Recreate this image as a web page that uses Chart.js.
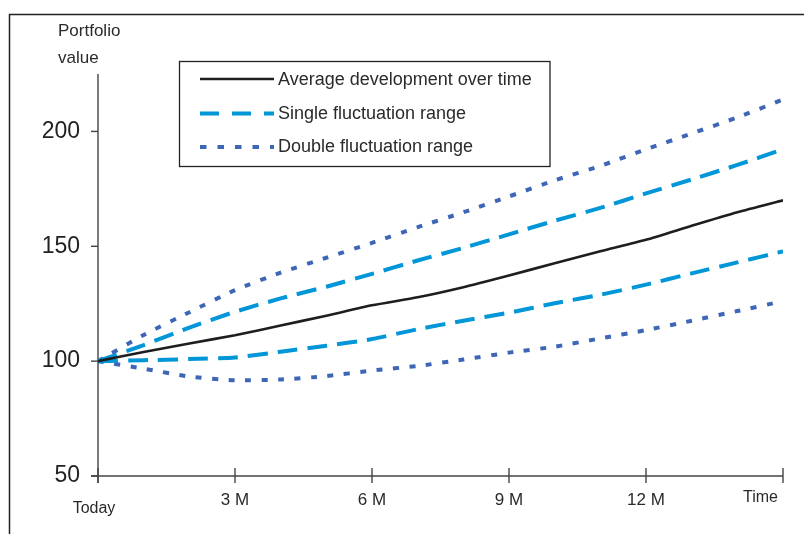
<!DOCTYPE html>
<html><head><meta charset="utf-8">
<script src="https://cdn.jsdelivr.net/npm/chart.js@4.4.1/dist/chart.umd.min.js"></script>
<style>html,body{margin:0;padding:0;background:#fff;}canvas{display:block;}</style>
</head><body>
<canvas id="c" width="804" height="534"></canvas>
<script>
// ---- data ----
const months = [0,1,2,3,4,5,6,7,8,9,10,11,12,13,14,15];
const average      = [100,104.0,107.7,111.3,115.5,119.8,124.3,127.8,132.2,137.3,142.6,147.8,152.8,158.9,164.8,170.0];
const upperSingle  = [100,107.0,114.6,121.5,127.3,132.4,138.0,143.8,149.3,155.2,161.1,166.7,173.0,179.1,185.4,192.2];
const lowerSingle  = [100,100.4,100.9,101.6,104.1,106.7,109.6,113.9,117.6,121.1,125.2,128.9,133.3,138.2,143.0,147.8];
const upperDouble  = [100,111.4,121.3,130.9,138.5,145.0,151.5,158.3,164.8,171.7,178.7,185.0,192.2,199.1,206.1,213.9];
const lowerDouble  = [100,96.7,93.3,91.7,92.0,93.5,95.9,97.9,100.7,103.7,106.3,109.9,113.5,117.6,121.8,126.1];
const xTickValues  = [0,3,6,9,12,15];
const xTickLabels  = ['Today','3 M','6 M','9 M','12 M','Time'];
const yTickValues  = [50,100,150,200];
const legendLabels = ['Average development over time','Single fluctuation range','Double fluctuation range'];
const yTitle       = ['Portfolio','value'];

const C_AVG = '#1e1e1e', C_SINGLE = '#0096d7', C_DOUBLE = '#3d66b6';
const FONT = '"Liberation Sans", Arial, sans-serif';
const TXT = '#2a2a2a';

const pts = arr => months.map((m,i)=>({x:m,y:arr[i]}));

const decor = {
  id:'decor',
  beforeDatasetsDraw(chart){
    const ctx=chart.ctx, xs=chart.scales.x, ys=chart.scales.y, a=chart.chartArea;
    const x0=xs.getPixelForValue(0), yb=ys.getPixelForValue(50), xe=xs.getPixelForValue(15);
    ctx.save();
    ctx.strokeStyle='#444'; ctx.lineWidth=1.4;
    const ln=(x1,y1,x2,y2)=>{ctx.beginPath();ctx.moveTo(x1,y1);ctx.lineTo(x2,y2);ctx.stroke();};
    ln(x0,a.top,x0,yb+7);
    ln(x0-7,yb,xe,yb);
    yTickValues.forEach(v=>{const y=ys.getPixelForValue(v); ln(x0-7,y,x0,y);});
    xTickValues.forEach(v=>{const x=xs.getPixelForValue(v); ln(x,yb-8,x,yb+7);});
    ctx.restore();
  },
  afterDraw(chart){
    const ctx=chart.ctx, xs=chart.scales.x, ys=chart.scales.y;
    const yb=ys.getPixelForValue(50);
    ctx.save();
    // frame
    ctx.strokeStyle='#222'; ctx.lineWidth=1.5;
    ctx.beginPath(); ctx.moveTo(804,14.5); ctx.lineTo(9.5,14.5); ctx.lineTo(9.5,534); ctx.stroke();
    // x labels
    ctx.fillStyle=TXT; ctx.textBaseline='alphabetic';
    xTickValues.forEach((v,i)=>{
      const x=xs.getPixelForValue(v);
      if(i===0){ctx.font='16px '+FONT; ctx.textAlign='center'; ctx.fillText(xTickLabels[i],x-4,yb+37);}
      else if(i===xTickValues.length-1){ctx.font='16px '+FONT; ctx.textAlign='right'; ctx.fillText(xTickLabels[i],x-5,yb+26);}
      else {ctx.font='17px '+FONT; ctx.textAlign='center'; ctx.fillText(xTickLabels[i],x,yb+29);}
    });
    // y title
    ctx.font='17px '+FONT; ctx.textAlign='left';
    ctx.fillText(yTitle[0],58,36);
    ctx.fillText(yTitle[1],58,63);
    // legend
    ctx.strokeStyle='#222'; ctx.lineWidth=1.3;
    ctx.strokeRect(179.5,61.5,370.5,105);
    const ds=chart.data.datasets;
    const rows=[{ds:ds[0],y:79,b:85},{ds:ds[1],y:113.5,b:118.5},{ds:ds[3],y:147,b:152}];
    const dashes=[[],[19,13],[6.5,11]];
    rows.forEach((r,i)=>{
      ctx.save();
      ctx.strokeStyle=r.ds.borderColor; ctx.lineWidth=r.ds.borderWidth; ctx.setLineDash(dashes[i]);
      ctx.beginPath(); ctx.moveTo(200,r.y); ctx.lineTo(274,r.y); ctx.stroke();
      ctx.restore();
      ctx.font='18px '+FONT; ctx.fillStyle=TXT; ctx.textAlign='left';
      ctx.fillText(legendLabels[i],278,r.b);
    });
    ctx.restore();
  }
};

new Chart(document.getElementById('c'),{
  type:'line',
  data:{datasets:[
    {label:legendLabels[0],data:pts(average),borderColor:C_AVG,borderWidth:2.6,pointRadius:0,tension:0.2},
    {label:legendLabels[1],data:pts(upperSingle),borderColor:C_SINGLE,borderWidth:4,borderDash:[20,10],pointRadius:0,tension:0.2},
    {label:legendLabels[1],data:pts(lowerSingle),borderColor:C_SINGLE,borderWidth:4,borderDash:[20,10],pointRadius:0,tension:0.2},
    {label:legendLabels[2],data:pts(upperDouble),borderColor:C_DOUBLE,borderWidth:4,borderDash:[6,10.5],pointRadius:0,tension:0.2},
    {label:legendLabels[2],data:pts(lowerDouble),borderColor:C_DOUBLE,borderWidth:4,borderDash:[6,10.5],pointRadius:0,tension:0.2}
  ]},
  options:{
    responsive:false, animation:false,
    layout:{padding:{left:0,right:21,top:74,bottom:58}},
    plugins:{legend:{display:false},tooltip:{enabled:false}},
    scales:{
      x:{type:'linear',min:0,max:15,display:false},
      y:{type:'linear',min:50,max:225,
         afterBuildTicks:s=>{s.ticks=yTickValues.map(v=>({value:v}));},
         afterFit:s=>{s.width=98;},
         grid:{display:false,drawTicks:false},border:{display:false},
         ticks:{padding:18,color:'#222',font:{size:23,family:FONT}}}
    }
  },
  plugins:[decor]
});
</script>
</body></html>
